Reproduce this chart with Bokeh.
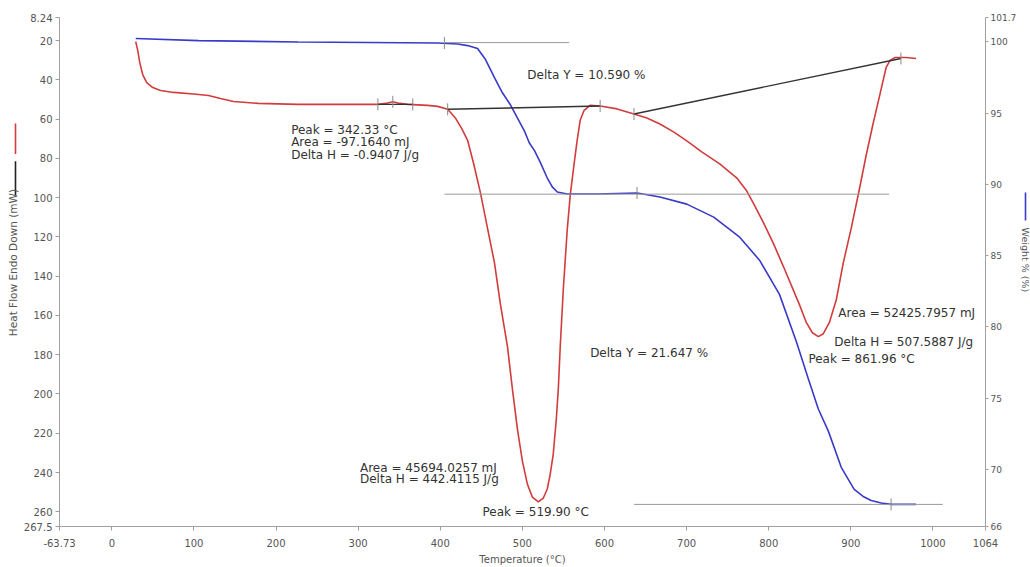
import math
from bokeh.plotting import figure
from bokeh.models import Range1d, LinearAxis, FixedTicker, Label
from bokeh.layouts import row
from bokeh.embed import file_html
from bokeh.resources import INLINE

# ---- data ----
red_T = [29.1, 31.6, 34.0, 37.6, 42.5, 49.8, 59.5, 75.2, 99.5, 117.7, 132.3, 148.1, 178.4, 227.0,
         324.0, 333.7, 342.2, 350.7, 360.4, 384.7, 396.8, 409.0, 418.7, 426.0,
         433.3, 440.5, 449.0, 457.5, 466.0, 473.3, 481.8, 487.9, 494.0, 500.0, 506.1, 512.1, 519.4,
         525.5, 530.3, 533.9, 537.6, 541.3, 543.7, 546.1, 549.8, 554.6, 558.3, 563.1, 566.7, 570.4,
         575.2, 582.5, 594.7, 615.3, 635.9, 651.7, 667.5, 684.5, 700.2, 718.4, 740.3, 760.9, 773.1,
         781.6, 793.7, 805.8, 817.9, 830.1, 837.4, 845.9, 853.2, 860.4, 866.5, 873.8, 882.3, 890.8,
         900.5, 910.2, 918.7, 927.2, 935.7, 943.0, 947.8, 953.9, 967.2, 979.4]
red_H = [20.5, 25.1, 31.2, 37.3, 41.4, 43.9, 45.4, 46.4, 47.2, 48.0, 49.5, 51.0, 52.0, 52.5,
         52.5, 52.0, 51.2, 52.0, 52.5, 53.0, 53.5, 55.0, 59.6, 64.7,
         70.8, 82.5, 97.7, 115.5, 133.2, 154.5, 175.8, 197.7, 218.0, 234.2, 245.9, 252.5, 255.0,
         253.0, 248.4, 240.8, 230.6, 212.9, 197.7, 175.8, 146.9, 116.4, 98.6, 82.4, 70.8, 60.6,
         55.5, 53.0, 53.3, 54.8, 57.4, 59.4, 62.5, 66.6, 71.1, 76.7, 82.8, 89.9, 96.5,
         103.1, 112.8, 123.4, 135.1, 147.2, 154.5, 163.7, 168.8, 170.8, 169.3, 163.7, 152.0, 133.2,
         115.5, 96.1, 78.4, 62.1, 46.9, 33.7, 30.1, 28.6, 28.6, 29.1]

blue_T = [29.1, 105.6, 227.0, 396.8, 421.1, 433.3, 445.4, 455.1, 466.0, 475.7, 485.4, 493.9, 502.4,
          508.5, 514.6, 521.8, 530.3, 536.4, 542.5, 554.6, 591.0, 639.6, 667.5, 700.2, 733.0, 764.6,
          788.8, 813.1, 833.7, 848.3, 860.4, 872.6, 888.3, 904.1, 915.0, 924.8, 936.9, 949.0, 979.4]
blue_W = [100.23, 100.08, 99.98, 99.91, 99.84, 99.73, 99.52, 98.75, 97.48, 96.42, 95.58, 94.66, 93.75,
          92.90, 92.38, 91.54, 90.44, 89.82, 89.46, 89.32, 89.32, 89.39, 89.11, 88.61, 87.70, 86.29,
          84.68, 82.28, 78.96, 76.35, 74.24, 72.69, 70.15, 68.61, 68.11, 67.83, 67.65, 67.55, 67.55]

# analysis baselines (heat flow)
base1_T = [409.0, 594.7]; base1_H = [55.0, 53.3]
base2_T = [635.9, 961.0]; base2_H = [57.4, 29.1]
base3_T = [324.0, 366.5]; base3_H = [52.5, 52.5]
# step-change reference lines (weight)
step1_T = [405, 557]; step1_W = [99.94, 99.94]
step2_T = [405, 946.6]; step2_W = [89.31, 89.31]
step3_T = [636, 1012]; step3_W = [67.55, 67.55]
# analysis cursor marks
mark_red_T = [324.0, 342.2, 366.5, 409.0, 594.7, 635.9, 961.0]
mark_red_H = [52.5, 51.2, 52.5, 55.0, 53.3, 57.4, 29.1]
mark_blue_T = [405, 639.6, 949.0]
mark_blue_W = [99.91, 89.39, 67.55]

x_ticks = [-63.73, 0, 100, 200, 300, 400, 500, 600, 700, 800, 900, 1000, 1064]
left_ticks = [8.24, 20, 40, 60, 80, 100, 120, 140, 160, 180, 200, 220, 240, 260, 267.5]
right_ticks = [66, 70, 75, 80, 85, 90, 95, 100, 101.7]

annotations = [
    ("Peak = 342.33 °C", 218.4, 65.7),
    ("Area = -97.1640 mJ", 218.4, 71.8),
    ("Delta H = -0.9407 J/g", 218.4, 78.4),
    ("Delta Y = 10.590 %", 506.0, 37.3),
    ("Delta Y = 21.647 %", 582.5, 178.9),
    ("Area = 52425.7957 mJ", 884.7, 158.6),
    ("Delta H = 507.5887 J/g", 879.9, 173.3),
    ("Peak = 861.96 °C", 848.3, 182.4),
    ("Area = 45694.0257 mJ", 302.2, 237.8),
    ("Delta H = 442.4115 J/g", 302.2, 243.4),
    ("Peak = 519.90 °C", 451.5, 260.0),
]

RED = "#d23c3c"
BLUE = "#3a3ac8"
GRAY = "#9a9a9a"
FONT = "DejaVu Sans"
TXT = "#555555"
H_PX = 567
LEFT_W = 20
RIGHT_W = 11
MAIN_W = 1030 - LEFT_W - RIGHT_W


def strip(width, x0):
    s = figure(width=width, height=H_PX, output_backend="svg", toolbar_location=None,
               x_range=Range1d(x0, x0 + width), y_range=Range1d(H_PX, 0),
               min_border=0, min_border_left=0, min_border_right=0,
               min_border_top=0, min_border_bottom=0)
    s.axis.visible = False
    s.grid.visible = False
    s.outline_line_color = None
    return s


# ---- left key strip ----
ls = strip(LEFT_W, 0)
ls.line([15, 15], [118, 152], color=RED, line_width=1.6)
ls.line([15, 15], [160, 198], color="#222222", line_width=1.6)
ls.add_layout(Label(x=12, y=273, angle=math.pi / 2, text="Heat Flow Endo Down (mW)",
                    text_font=FONT, text_font_size="10.5px", text_color=TXT,
                    text_align="center", text_baseline="middle"))

# ---- right key strip ----
rs = strip(RIGHT_W, 1030 - RIGHT_W)
rs.line([1025, 1025], [195, 226], color=BLUE, line_width=1.6)
rs.add_layout(Label(x=1024.5, y=270, angle=-math.pi / 2, text="Weight % (%)",
                    text_font=FONT, text_font_size="9.5px", text_color=TXT,
                    text_align="center", text_baseline="middle"))

# ---- main plot ----
p = figure(width=MAIN_W, height=H_PX, output_backend="svg", toolbar_location=None,
           x_range=Range1d(-63.73, 1064), y_range=Range1d(267.5, 8.24),
           min_border_left=58 - LEFT_W, min_border_right=(1030 - RIGHT_W) - 991,
           min_border_top=17, min_border_bottom=40)
p.extra_y_ranges = {"w": Range1d(66, 101.7)}
p.grid.visible = False
p.outline_line_color = None

right = LinearAxis(y_range_name="w")
p.add_layout(right, "right")

for ax in [p.xaxis[0], p.yaxis[0], right]:
    ax.axis_line_color = "#a0a0a0"
    ax.major_tick_line_color = "#a0a0a0"
    ax.minor_tick_line_color = None
    ax.major_tick_in = 0
    ax.major_tick_out = 4
    ax.major_label_text_font = FONT
    ax.major_label_text_font_size = "10px"
    ax.major_label_text_color = TXT
    ax.major_label_standoff = 3

right.major_label_text_font_size = "9px"
right.major_tick_out = 3
right.major_label_standoff = 2

p.xaxis[0].ticker = FixedTicker(ticks=x_ticks)
p.xaxis[0].major_label_overrides = {-63.73: "-63.73", 1064: "1064"}
p.xaxis[0].axis_label = "Temperature (°C)"
p.xaxis[0].axis_label_text_font = FONT
p.xaxis[0].axis_label_text_font_size = "10px"
p.xaxis[0].axis_label_text_font_style = "normal"
p.xaxis[0].axis_label_text_color = TXT
p.xaxis[0].major_label_standoff = 8
p.xaxis[0].axis_label_standoff = 4

p.yaxis[0].ticker = FixedTicker(ticks=left_ticks)
p.yaxis[0].major_label_overrides = {8.24: "8.24", 267.5: "267.5"}
right.ticker = FixedTicker(ticks=right_ticks)
right.major_label_overrides = {101.7: "101.7"}

# curves
p.line(red_T, red_H, color=RED, line_width=1.6)
p.line(blue_T, blue_W, color=BLUE, line_width=1.6, y_range_name="w")
for bt, bh in [(base1_T, base1_H), (base2_T, base2_H), (base3_T, base3_H)]:
    p.line(bt, bh, color="#333333", line_width=1.4)
for st, sw in [(step1_T, step1_W), (step2_T, step2_W), (step3_T, step3_W)]:
    p.line(st, sw, color=GRAY, line_width=1, y_range_name="w")
p.scatter(mark_red_T, mark_red_H, marker="dash", angle=math.pi / 2, size=12,
          line_color="#888888", line_width=1)
p.scatter(mark_blue_T, mark_blue_W, marker="dash", angle=math.pi / 2, size=12,
          line_color="#888888", line_width=1, y_range_name="w")

for txt, x, y in annotations:
    p.add_layout(Label(x=x, y=y, text=txt, text_font=FONT, text_font_size="12px",
                       text_color="#333333", text_baseline="middle", text_align="left"))

layout = row(ls, p, rs, spacing=0)
open("out.html", "w").write(file_html(layout, INLINE))
